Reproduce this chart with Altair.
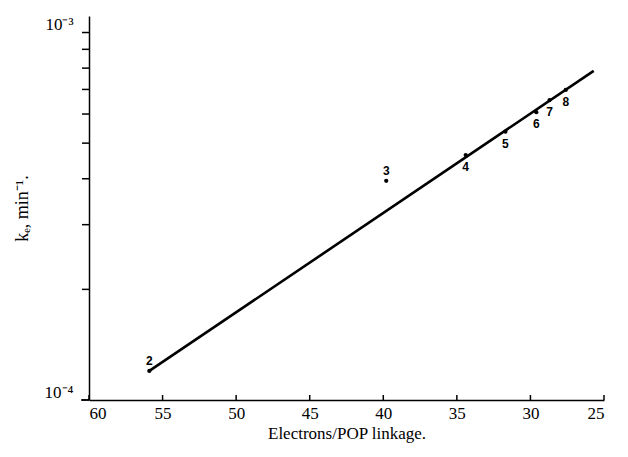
import altair as alt
import pandas as pd

# Data
labels = ["2", "3", "4", "5", "6", "7", "8"]
electrons = [55.9, 39.8, 34.4, 31.7, 29.6, 28.7, 27.6]
k_values = [1.20e-4, 3.95e-4, 4.64e-4, 5.37e-4, 6.07e-4, 6.55e-4, 6.98e-4]
above = [True, True, False, False, False, False, False]

line_x = [55.9, 25.7]
line_y = [1.20e-4, 7.86e-4]

x_ticks = [60, 55, 50, 45, 40, 35, 30, 25]
y_ticks = [1e-4, 2e-4, 3e-4, 4e-4, 5e-4, 6e-4, 7e-4, 8e-4, 9e-4, 1e-3]

pts = pd.DataFrame({"lab": labels, "x": electrons, "y": k_values, "above": above})
ln = pd.DataFrame({"x": line_x, "y": line_y})
tk = pd.DataFrame({"x": x_ticks})
tky = pd.DataFrame({"y": y_ticks})

W, H = 515, 384
FONT = "Liberation Serif"

xscale = alt.Scale(domain=[25, 60], reverse=True, nice=False, zero=False)
yscale = alt.Scale(type="log", domain=[1e-4, 1.109e-3], nice=False)

xax = alt.Axis(
    values=x_ticks, title="Electrons/POP linkage.", grid=False, ticks=False,
    domainColor="black", domainWidth=1.5, labelFont=FONT, labelFontSize=17,
    labelColor="black", labelPadding=5, titleFont=FONT, titleFontSize=17,
    titleFontWeight="normal", titleColor="black", titlePadding=4,
)
yax = alt.Axis(
    values=y_ticks, title="kₑ, min⁻¹.", grid=False, ticks=False,
    domainColor="black", domainWidth=1.5,
    labelExpr="abs(datum.value-0.001)<1e-9 ? '10⁻³' : (abs(datum.value-0.0001)<1e-10 ? '10⁻⁴' : '')",
    labelFont=FONT, labelFontSize=17, labelColor="black", labelPadding=16,
    labelOffset=-8, labelFlush=False, labelOverlap=False,
    titleFont=FONT, titleFontSize=18, titleFontWeight="normal", titleColor="black",
    titlePadding=13,
)

X = alt.X("x:Q", scale=xscale, axis=xax)
Y = alt.Y("y:Q", scale=yscale, axis=yax)

base_line = alt.Chart(ln).mark_line(color="black", strokeWidth=2.6).encode(x=X, y=Y)

xticks = alt.Chart(tk).mark_rule(color="black", strokeWidth=1.5).encode(
    x=X,
    y=alt.value(H),
    y2=alt.value(H - 5),
)

yticks = alt.Chart(tky).mark_rule(color="black", strokeWidth=1.5).encode(
    y=Y,
    x=alt.value(0),
    x2=alt.value(-7),
)

# small extension of the x axis line to the left of the y axis
x_ext = alt.Chart(pd.DataFrame({"a": [0]})).mark_rule(color="black", strokeWidth=1.5).encode(
    x=alt.value(-8), x2=alt.value(0), y=alt.value(H)
)

points = alt.Chart(pts).mark_circle(color="black", size=18, opacity=1).encode(x=X, y=Y)

lab_above = alt.Chart(pts).transform_filter("datum.above").mark_text(
    font="Liberation Sans", fontWeight="bold", fontSize=12, dy=-10, color="black"
).encode(x=X, y=Y, text="lab:N")

lab_below = alt.Chart(pts).transform_filter("!datum.above").mark_text(
    font="Liberation Sans", fontWeight="bold", fontSize=12, dy=12, color="black"
).encode(x=X, y=Y, text="lab:N")

chart = alt.layer(base_line, xticks, yticks, x_ext, points, lab_above, lab_below).properties(
    width=W, height=H, background="white",
    padding={"left": 5, "top": 7, "right": 5, "bottom": 5},
).configure_view(stroke=None, clip=False)

chart.save("out.html", embed_options={"renderer": "svg", "actions": False})
